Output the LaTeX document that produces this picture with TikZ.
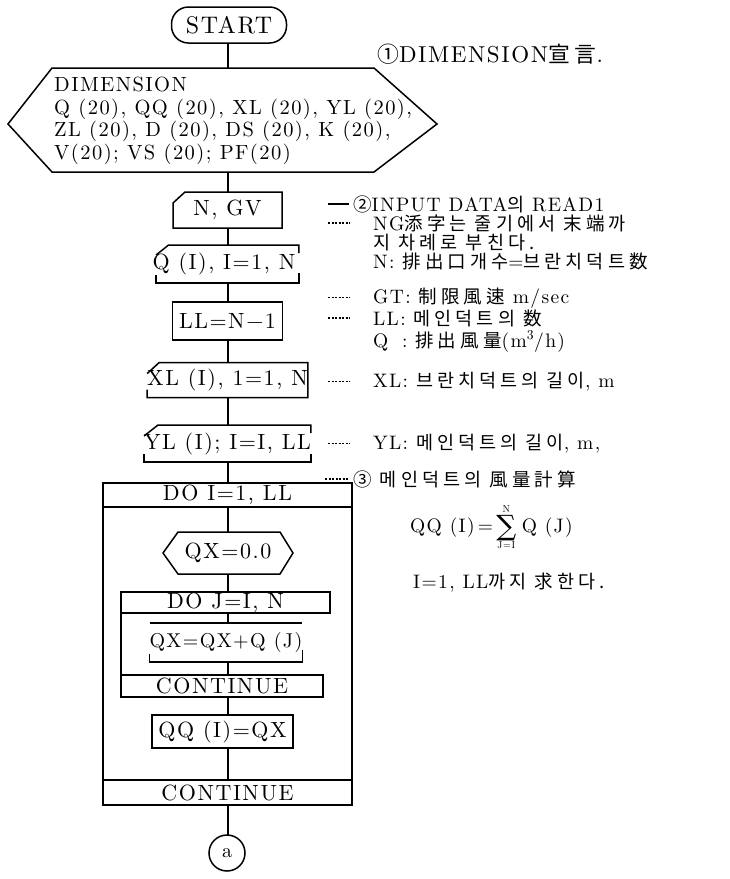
\documentclass[tikz,border=0pt]{standalone}
\usepackage{fontspec}
\setmainfont{lmroman10-regular.otf}[LetterSpace=7]
\newfontfamily\korfont{Noto Sans CJK KR}[Scale=0.95, LetterSpace=22]
\newfontfamily\symfont{DejaVu Serif}
\newcommand{\kor}[1]{{\korfont #1}}
\newcommand{\smlimit}[1]{\hbox{\fontsize{10}{10}\selectfont #1}}
\begin{document}
\begin{tikzpicture}[x=1pt,y=-1pt,
  ln/.style={line width=1.5pt},
  ft/.style={font=\fontsize{22}{24}\selectfont},
  bx/.style={inner sep=0pt, outer sep=0pt, ft},
  an/.style={anchor=base west, inner sep=0pt, font=\fontsize{19.5}{22}\selectfont},
  dmark/.style={line width=1.1pt, dash pattern=on 2pt off 1.5pt},
  smark/.style={line width=1.2pt}]
\useasboundingbox (0,0) rectangle (729,879);
\coordinate (sp) at (228,0);

% START
\node[bx, draw, ln, rounded corners=17pt, minimum width=115pt, minimum height=36pt,
      font=\fontsize{24}{26}\selectfont] (start) at (229,25) {START};

% DIMENSION
\node[bx, minimum width=322pt, minimum height=104pt] (dim) at (213,120) {};
\draw[ln] (dim.north west) -- (dim.north east) -- (437,124) -- (dim.south east)
  -- (dim.south west) -- (8,124) -- cycle;
\node[anchor=north west, inner sep=0pt, align=left, font=\fontsize{20.5}{22.5}\selectfont]
  (dimtxt) at (54,77) {DIMENSION\\Q (20), QQ (20), XL (20), YL (20),\\ZL (20), D (20), DS (20), K (20),\\V(20); VS (20); PF(20)};

% N, GV card
\node[bx, minimum width=109pt, minimum height=36pt] (ngv) at (227.5,210) {N, GV};
\draw[ln] ([yshift=-11pt]ngv.north west) -- ([xshift=12pt]ngv.north west) -- (ngv.north east)
  -- (ngv.south east) -- (ngv.south west) -- cycle;

% Q(I) card
\node[bx, minimum width=111pt, minimum height=38pt] (qi) at (224,264) {Q (I), I=1, N};
\draw[ln] ([yshift=-10pt,xshift=3.5pt]qi.north west) -- ([xshift=16pt]qi.north west) -- ([xshift=3.5pt]qi.north east)
  -- ([yshift=-8pt,xshift=3.5pt]qi.north east);
\draw[ln] ([yshift=8pt,xshift=3.5pt]qi.south west) -- ([xshift=3.5pt]qi.south west) -- ([xshift=3.5pt]qi.south east)
  -- ([yshift=10pt,xshift=3.5pt]qi.south east);

% LL
\node[bx, draw, ln, minimum width=110pt, minimum height=38pt] (ll) at (227.5,321) {LL=N−1};

% XL card
\node[bx, minimum width=135pt, minimum height=35pt] (xl) at (227.5,380) {XL (I), 1=1, N};
\draw[ln] ([yshift=-11pt]xl.north west) -- ([xshift=12pt]xl.north west) -- (xl.north east)
  -- (xl.south east) -- (xl.south west) -- ([yshift=8pt]xl.south west);

% YL card
\node[bx, minimum width=145pt, minimum height=37pt] (yl) at (227.5,443.5) {YL (I); I=I, LL};
\draw[ln] ([yshift=-11pt]yl.north west) -- ([xshift=14pt]yl.north west) -- (yl.north east)
  -- ([yshift=-8pt]yl.north east);
\draw[ln] ([yshift=8pt]yl.south west) -- (yl.south west) -- (yl.south east) -- ([yshift=8pt]yl.south east);

% outer loop
\node[bx, draw, ln, minimum width=249pt, minimum height=24pt] (doi) at (227.5,495) {DO I=1, LL};
\node[bx, draw, ln, minimum width=249pt, minimum height=25pt] (cont2) at (227.5,792.5) {CONTINUE};
\draw[ln] (doi.south west) -- (cont2.north west);
\draw[ln] (doi.south east) -- (cont2.north east);

% QX=0.0
\node[bx, minimum width=130pt, minimum height=42pt] (qx0) at (228,553) {QX=0.0};
\draw[ln] (qx0.west) -- ([xshift=15pt]qx0.north west) -- ([xshift=-13pt]qx0.north east) -- (qx0.east)
  -- ([xshift=-13pt]qx0.south east) -- ([xshift=15pt]qx0.south west) -- cycle;

% inner loop
\node[bx, draw, ln, minimum width=209pt, minimum height=21pt] (doj) at (225.5,602.5) {DO J=I, N};
\node[bx, minimum width=148pt, minimum height=39pt, font=\fontsize{20}{22}\selectfont] (qxq) at (226,642.5) {QX=QX+Q (J)};
\draw[ln] (qxq.north west) -- (qxq.north east);
\draw[ln] ([yshift=8pt]qxq.south west) -- (qxq.south west) -- (qxq.south east) -- ([yshift=12pt]qxq.south east);
\node[bx, draw, ln, minimum width=202pt, minimum height=22pt] (cont1) at (222,686) {CONTINUE};
\draw[ln] (doj.south west) -- (cont1.north west);

% QQ
\node[bx, draw, ln, minimum width=141pt, minimum height=33pt] (qq) at (222.5,731.5) {QQ (I)=QX};

% connector a
\node[bx, draw, ln, circle, minimum size=36pt, font=\fontsize{20}{22}\selectfont] (ca) at (227,853) {a};

% spine
\foreach \a/\b in {start/dim, dim/ngv, ngv/qi, qi/ll, ll/xl, xl/yl, yl/doi, doi/qx0, qx0/doj,
                   doj/qxq, qxq/cont1, cont1/qq, qq/cont2, cont2/ca}
  \draw[ln] (sp |- \a.south) -- (sp |- \b.north);

% annotations
\node[an, font=\fontsize{23}{25}\selectfont] (n1) at (377,62) {\kor{①}DIMENSION\kor{宣言}.};
\node[an] (n2) at (353,211) {\kor{②}INPUT DATA\kor{의} READ1};
\node[an] (n3) at (373,230) {NG\kor{添字는 줄기에서 末端까}};
\node[an] (n4) at (373,249) {\kor{지 차례로 부친다.}};
\node[an] (n5) at (373,268) {N: \kor{排出口개수}=\kor{브란치덕트数}};
\node[an] (n6) at (373,303) {GT: \kor{制限風速} m/sec};
\node[an] (n7) at (373,325) {LL: \kor{메인덕트의 数}};
\node[an] (n8) at (373,347) {Q\hspace{0.7em}: \kor{排出風量}(m\textsuperscript{3}/h)};
\node[an] (n9) at (373,387) {XL: \kor{브란치덕트의 길이}, m};
\node[an] (n10) at (373,449) {YL: \kor{메인덕트의 길이}, m,};
\node[an] (n11) at (353,486) {\kor{③ 메인덕트의 風量計算}};
\node[an] (n12) at (410,532) {QQ (I)\,=\,$\mathop{\hbox{\symfont\fontsize{28}{28}\selectfont\raisebox{-3pt}{∑}}}\limits_{\smlimit{J=I}}^{\smlimit{N}}$\;Q (J)};
\node[an] (n13) at (413,588) {I=1, LL\kor{까지 求한다.}};

% leader marks
\draw[smark] ([xshift=-25pt]n2.west) -- ([xshift=-4pt]n2.west);
\draw[dmark] ([xshift=-45pt]n3.west) -- ([xshift=-23pt]n3.west);
\draw[dmark] ([xshift=-45pt]n6.west) -- ([xshift=-23pt]n6.west);
\draw[dmark] ([xshift=-45pt]n7.west) -- ([xshift=-23pt]n7.west);
\draw[dmark] ([xshift=-45pt]n9.west) -- ([xshift=-23pt]n9.west);
\draw[dmark] ([xshift=-45pt]n10.west) -- ([xshift=-23pt]n10.west);
\draw[dmark] ([xshift=-28pt]n11.west) -- ([xshift=-4pt]n11.west);
\end{tikzpicture}
\end{document}
